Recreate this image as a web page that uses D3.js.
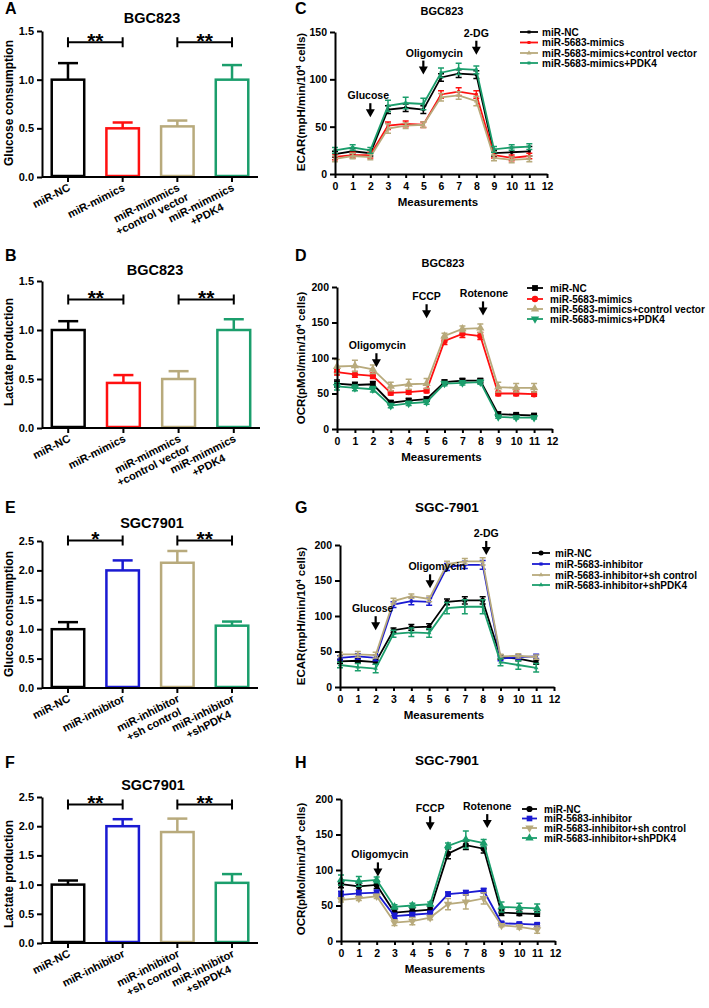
<!DOCTYPE html>
<html><head><meta charset="utf-8">
<script src="https://cdn.jsdelivr.net/npm/d3@7"></script>
<style>
body{margin:0;background:#fff}
svg{display:block}
text{font-family:"Liberation Sans",Arial,sans-serif;font-weight:bold;fill:#000}
</style>
</head><body><svg id="c" width="709" height="1008"></svg>
<script>
// ---------------- DATA ----------------
const catsMimic = ["miR-NC", "miR-mimics", "miR-mimmics|+control vector", "miR-mimmics|+PDK4"];
const catsInhib = ["miR-NC", "miR-inhibitor", "miR-inhibitor|+sh control", "miR-inhibitor|+shPDK4"];

const glucoseBGC = [1.0, 0.50, 0.52, 1.0];
const glucoseBGCErr = [0.17, 0.06, 0.06, 0.15];
const lactateBGC = [1.0, 0.46, 0.50, 1.0];
const lactateBGCErr = [0.09, 0.08, 0.08, 0.11];
const glucoseSGC = [1.0, 2.0, 2.13, 1.06];
const glucoseSGCErr = [0.12, 0.17, 0.20, 0.07];
const lactateSGC = [1.0, 2.0, 1.90, 1.03];
const lactateSGCErr = [0.07, 0.12, 0.23, 0.15];

const barTicksBGC = [0, 0.5, 1.0, 1.5];
const barTicksSGC = [0, 0.5, 1.0, 1.5, 2.0, 2.5];

const measurements = [0, 1, 2, 3, 4, 5, 6, 7, 8, 9, 10, 11];
const measTicks = [0, 1, 2, 3, 4, 5, 6, 7, 8, 9, 10, 11, 12];
const ecarTicksBGC = [0, 50, 100, 150];
const ocrTicks = [0, 50, 100, 150, 200];

const namesMimic = ["miR-NC", "miR-5683-mimics", "miR-5683-mimics+control vector", "miR-5683-mimics+PDK4"];
const namesInhib = ["miR-NC", "miR-5683-inhibitor", "miR-5683-inhibitor+sh control", "miR-5683-inhibitor+shPDK4"];

// C: ECAR BGC823
const ecarBGC_NC = [21, 24, 22, 68, 70, 68, 102, 106, 105, 22, 23, 24];
const ecarBGC_NCErr = [3, 3, 3, 4, 4, 4, 4, 4, 4, 3, 5, 5];
const ecarBGC_mim = [18, 20, 20, 51, 53, 52, 84, 87, 84, 20, 17, 19];
const ecarBGC_mimErr = [3, 3, 3, 4, 3, 3, 4, 4, 4, 3, 3, 3];
const ecarBGC_ctrl = [16, 19, 18, 48, 51, 52, 81, 83, 77, 17, 15, 16];
const ecarBGC_ctrlErr = [3, 3, 3, 5, 3, 3, 4, 4, 5, 3, 3, 3];
const ecarBGC_pdk = [25, 28, 25, 72, 75, 74, 107, 111, 110, 26, 28, 29];
const ecarBGC_pdkErr = [3, 3, 3, 6, 6, 6, 5, 6, 4, 3, 3, 3];

// D: OCR BGC823
const ocrBGC_NC = [64, 62, 63, 37, 40, 42, 66, 68, 68, 21, 20, 19];
const ocrBGC_NCErr = [5, 4, 4, 3, 3, 3, 3, 3, 3, 3, 2, 2];
const ocrBGC_mim = [80, 77, 75, 51, 52, 54, 124, 134, 131, 50, 50, 49];
const ocrBGC_mimErr = [4, 4, 4, 3, 3, 3, 5, 5, 5, 3, 3, 3];
const ocrBGC_ctrl = [88, 89, 84, 60, 63, 64, 131, 141, 142, 59, 58, 58];
const ocrBGC_ctrlErr = [10, 8, 6, 6, 7, 7, 4, 4, 6, 7, 6, 6];
const ocrBGC_pdk = [60, 58, 56, 33, 36, 38, 64, 65, 66, 17, 16, 16];
const ocrBGC_pdkErr = [5, 4, 4, 3, 3, 3, 3, 3, 3, 2, 2, 2];

// G: ECAR SGC-7901
const ecarSGC_NC = [36, 37, 35, 80, 84, 85, 120, 122, 122, 42, 40, 35];
const ecarSGC_NCErr = [3, 3, 3, 3, 4, 4, 4, 5, 5, 3, 3, 3];
const ecarSGC_inh = [41, 43, 41, 116, 121, 120, 169, 172, 172, 40, 42, 43];
const ecarSGC_inhErr = [3, 4, 4, 4, 5, 5, 5, 5, 6, 3, 3, 3];
const ecarSGC_ctrl = [46, 46, 45, 121, 128, 124, 173, 177, 177, 43, 44, 42];
const ecarSGC_ctrlErr = [3, 4, 4, 4, 3, 4, 4, 4, 5, 3, 3, 3];
const ecarSGC_sh = [31, 28, 26, 75, 77, 76, 111, 113, 113, 35, 31, 27];
const ecarSGC_shErr = [4, 5, 6, 5, 6, 6, 8, 10, 10, 5, 6, 6];

// H: OCR SGC-7901
const ocrSGC_NC = [80, 77, 79, 40, 42, 44, 123, 135, 130, 40, 39, 38];
const ocrSGC_NCErr = [5, 5, 5, 4, 4, 4, 7, 6, 6, 4, 3, 3];
const ocrSGC_inh = [65, 67, 68, 35, 37, 39, 66, 68, 71, 25, 24, 23];
const ocrSGC_inhErr = [5, 4, 4, 4, 3, 3, 3, 3, 3, 2, 2, 2];
const ocrSGC_ctrl = [58, 60, 63, 26, 28, 33, 52, 55, 60, 22, 20, 16];
const ocrSGC_ctrlErr = [3, 3, 3, 4, 5, 3, 8, 10, 8, 2, 3, 5];
const ocrSGC_sh = [86, 84, 86, 48, 50, 52, 134, 143, 138, 48, 47, 46];
const ocrSGC_shErr = [7, 7, 4, 3, 3, 3, 4, 12, 5, 7, 6, 6];

// injections: [label, measurement position, arrow tip value]
const injECAR_BGC = [["Glucose", 2, 60], ["Oligomycin", 5, 105], ["2-DG", 8, 126]];
const injOCR_BGC = [["Oligomycin", 2.2, 87], ["FCCP", 5, 156], ["Rotenone", 8.15, 160]];
const injECAR_SGC = [["Glucose", 2, 80], ["Oligomycin", 5.05, 139], ["2-DG", 8.2, 186]];
const injOCR_SGC = [["Oligomycin", 2.07, 91], ["FCCP", 5, 156], ["Rotenone", 8.2, 159]];

// ---------------- STYLE ----------------
const BLACK = "#000000", RED = "#ff1010", TAN = "#b8aa7c", GREEN = "#1b9e6c", BLUE = "#1a1ad2";
const svg = d3.select("#c");

function panelLetter(t, x, y) {
  svg.append("text").attr("x", x).attr("y", y).attr("font-size", 16).text(t);
}

function drawBar(o) {
  const g = svg.append("g");
  const y = d3.scaleLinear().domain([0, o.ymax]).range([o.yBot, o.yTop]);
  const x = d3.scaleBand().domain(o.cats).range([o.x0, o.x1]).paddingInner(0.36).paddingOuter(0.155);
  panelLetter(o.letter, 5, o.letterY);
  g.append("text").attr("x", o.titleX).attr("y", o.titleY).attr("text-anchor", "middle")
    .attr("font-size", 14.5).text(o.title);
  g.append("text").attr("transform", `translate(13,${o.ylabelY}) rotate(-90)`)
    .attr("text-anchor", "middle").attr("font-size", 12).text(o.ylabel);
  const bw = x.bandwidth();
  o.cats.forEach((c, i) => {
    const cx = x(c) + bw / 2;
    const top = y(o.vals[i] + o.errs[i]);
    g.append("line").attr("x1", cx).attr("x2", cx).attr("y1", y(o.vals[i])).attr("y2", top)
      .attr("stroke", o.colors[i]).attr("stroke-width", 2.5);
    g.append("line").attr("x1", cx - 10).attr("x2", cx + 10).attr("y1", top).attr("y2", top)
      .attr("stroke", o.colors[i]).attr("stroke-width", 2.5);
    g.append("rect").attr("x", x(c) + 1.25).attr("width", bw - 2.5)
      .attr("y", y(o.vals[i])).attr("height", y(0) - y(o.vals[i]) - 1)
      .attr("fill", "#fff").attr("stroke", o.colors[i]).attr("stroke-width", 2.5);
  });
  const ya = g.append("g").attr("transform", `translate(${o.x0},0)`)
    .call(d3.axisLeft(y).tickValues(o.ticks).tickFormat(d3.format(".1f")).tickSize(5).tickSizeOuter(0));
  ya.select(".domain").attr("stroke-width", 2);
  ya.selectAll(".tick line").attr("stroke-width", 2);
  ya.selectAll("text").attr("font-size", 11).attr("font-family", "Liberation Sans").attr("font-weight", "bold");
  const xa = g.append("g").attr("transform", `translate(0,${o.yBot})`)
    .call(d3.axisBottom(x).tickSize(5).tickSizeOuter(0).tickFormat(""));
  xa.select(".domain").attr("stroke-width", 2).attr("d", `M${o.x0},0H${o.x1}`);
  xa.selectAll(".tick line").attr("stroke-width", 2);
  o.cats.forEach(c => {
    const cx = x(c) + bw / 2;
    const parts = c.split("|");
    const lg = g.append("g").attr("transform", `translate(${cx + 3},${o.yBot + 13}) rotate(-27)`);
    const t1 = lg.append("text").attr("text-anchor", "end").attr("font-size", 11).text(parts[0]);
    if (parts[1]) {
      const w = t1.node().getComputedTextLength();
      lg.append("text").attr("text-anchor", "middle").attr("x", -w / 2).attr("y", 12.5)
        .attr("font-size", 11).text(parts[1]);
    }
  });
  o.brackets.forEach(b => {
    const xa1 = x(o.cats[b[0]]) + bw / 2, xb = x(o.cats[b[1]]) + bw / 2, yy = y(b[2]);
    g.append("path").attr("d", `M${xa1},${yy - 5}V${yy + 5}M${xa1},${yy}H${xb}M${xb},${yy - 5}V${yy + 5}`)
      .attr("stroke", "#000").attr("stroke-width", 2).attr("fill", "none");
    g.append("text").attr("x", (xa1 + xb) / 2).attr("y", yy + 5.5).attr("text-anchor", "middle")
      .attr("font-size", 21).text(b[3]);
  });
}

function marker(type, size) {
  if (type === "tridown") return d3.symbol().type(d3.symbolTriangle).size(size)();
  const m = {circle: d3.symbolCircle, square: d3.symbolSquare, tri: d3.symbolTriangle}[type];
  return d3.symbol().type(m).size(size)();
}

function drawLine(o) {
  const g = svg.append("g");
  const x = d3.scaleLinear().domain([0, 12]).range([o.x0, o.x1]);
  const y = d3.scaleLinear().domain([0, o.ymax]).range([o.yBot, o.yTop]);
  panelLetter(o.letter, 295, o.letterY);
  g.append("text").attr("x", o.titleX).attr("y", o.titleY).attr("text-anchor", "middle")
    .attr("font-size", o.titleSize).text(o.title);
  const yl = g.append("text").attr("transform", `translate(305,${o.ylabelY}) rotate(-90)`)
    .attr("text-anchor", "middle").attr("font-size", 11.5);
  yl.append("tspan").text(o.ylabel[0] + "(" + o.ylabel[1] + "/min/10");
  yl.append("tspan").attr("dy", -4).attr("font-size", 7.5).text("4");
  yl.append("tspan").attr("dy", 4).text(" cells)");

  o.series.forEach(s => {
    const line = d3.line().x((d, i) => x(measurements[i])).y(d => y(d));
    s.vals.forEach((v, i) => {
      const cx = x(measurements[i]);
      g.append("path").attr("d", `M${cx},${y(v - s.errs[i])}V${y(v + s.errs[i])}M${cx - 3},${y(v + s.errs[i])}H${cx + 3}M${cx - 3},${y(v - s.errs[i])}H${cx + 3}`)
        .attr("stroke", s.color).attr("stroke-width", 1.5).attr("fill", "none");
    });
    g.append("path").attr("d", line(s.vals)).attr("fill", "none").attr("stroke", s.color).attr("stroke-width", 1.8);
    s.vals.forEach((v, i) => {
      g.append("path").attr("d", marker(s.marker, s.msize))
        .attr("transform", `translate(${x(measurements[i])},${y(v)})${s.marker === "tridown" ? " rotate(180)" : ""}`)
        .attr("fill", s.color);
    });
  });

  const ya = g.append("g").attr("transform", `translate(${o.x0},0)`)
    .call(d3.axisLeft(y).tickValues(o.ticks).tickSize(5).tickSizeOuter(0));
  ya.select(".domain").attr("stroke-width", 2);
  ya.selectAll(".tick line").attr("stroke-width", 2);
  ya.selectAll("text").attr("font-size", 10.5).attr("font-family", "Liberation Sans").attr("font-weight", "bold");
  const xa = g.append("g").attr("transform", `translate(0,${o.yBot})`)
    .call(d3.axisBottom(x).tickValues(measTicks).tickSize(4).tickSizeOuter(0));
  xa.select(".domain").attr("stroke-width", 2);
  xa.selectAll(".tick line").attr("stroke-width", 2);
  xa.selectAll("text").attr("font-size", 10.5).attr("font-family", "Liberation Sans").attr("font-weight", "bold").attr("dy", "0.9em");
  g.append("text").attr("x", (o.x0 + o.x1) / 2 - 3).attr("y", o.yBot + 32).attr("text-anchor", "middle")
    .attr("font-size", 11.5).text("Measurements");

  o.inj.forEach((a, k) => {
    const ax = x(a[1]), tip = y(a[2]);
    g.append("line").attr("x1", ax).attr("x2", ax).attr("y1", tip - 14).attr("y2", tip - 6)
      .attr("stroke", "#000").attr("stroke-width", 2.2);
    g.append("path").attr("d", `M${ax - 4.5},${tip - 8}L${ax + 4.5},${tip - 8}L${ax},${tip}Z`).attr("fill", "#000");
    g.append("text").attr("x", ax + (o.injDx[k] || 0)).attr("y", tip - 18).attr("text-anchor", "middle")
      .attr("font-size", 10.5).text(a[0]);
  });

  o.series.forEach((s, i) => {
    const ly = o.leg.ys[i];
    g.append("line").attr("x1", o.leg.x0).attr("x2", o.leg.x1).attr("y1", ly).attr("y2", ly)
      .attr("stroke", s.color).attr("stroke-width", 1.8);
    g.append("path").attr("d", marker(s.marker, s.msize))
      .attr("transform", `translate(${(o.leg.x0 + o.leg.x1) / 2},${ly})${s.marker === "tridown" ? " rotate(180)" : ""}`)
      .attr("fill", s.color);
    g.append("text").attr("x", o.leg.tx).attr("y", ly + 3.5).attr("font-size", 10).text(s.name);
  });
}

// ---------------- PANELS ----------------
drawBar({letter: "A", letterY: 14, title: "BGC823", titleX: 152, titleY: 23, ylabel: "Glucose consumption", ylabelY: 103,
  cats: catsMimic, vals: glucoseBGC, errs: glucoseBGCErr, colors: [BLACK, RED, TAN, GREEN],
  ticks: barTicksBGC, ymax: 1.5, yTop: 31, yBot: 177, x0: 42, x1: 258,
  brackets: [[0, 1, 1.385, "**"], [2, 3, 1.385, "**"]]});
drawBar({letter: "B", letterY: 261, title: "BGC823", titleX: 155, titleY: 275, ylabel: "Lactate production", ylabelY: 352,
  cats: catsMimic, vals: lactateBGC, errs: lactateBGCErr, colors: [BLACK, RED, TAN, GREEN],
  ticks: barTicksBGC, ymax: 1.5, yTop: 281, yBot: 428, x0: 42, x1: 260,
  brackets: [[0, 1, 1.31, "**"], [2, 3, 1.31, "**"]]});
drawBar({letter: "E", letterY: 513, title: "SGC7901", titleX: 152, titleY: 528, ylabel: "Glucose consumption", ylabelY: 614,
  cats: catsInhib, vals: glucoseSGC, errs: glucoseSGCErr, colors: [BLACK, BLUE, TAN, GREEN],
  ticks: barTicksSGC, ymax: 2.5, yTop: 541, yBot: 688, x0: 42, x1: 258,
  brackets: [[0, 1, 2.51, "*"], [2, 3, 2.51, "**"]]});
drawBar({letter: "F", letterY: 768, title: "SGC7901", titleX: 153, titleY: 790, ylabel: "Lactate production", ylabelY: 874,
  cats: catsInhib, vals: lactateSGC, errs: lactateSGCErr, colors: [BLACK, BLUE, TAN, GREEN],
  ticks: barTicksSGC, ymax: 2.5, yTop: 797, yBot: 943, x0: 42, x1: 258,
  brackets: [[0, 1, 2.37, "**"], [2, 3, 2.37, "**"]]});

drawLine({letter: "C", letterY: 14, title: "BGC823", titleX: 442, titleY: 15, titleSize: 11,
  ylabel: ["ECAR", "mpH"], ylabelY: 102, x0: 335, x1: 547, yTop: 32, yBot: 174, ymax: 150, ticks: ecarTicksBGC,
  series: [
    {name: namesMimic[0], vals: ecarBGC_NC, errs: ecarBGC_NCErr, color: BLACK, marker: "square", msize: 9},
    {name: namesMimic[1], vals: ecarBGC_mim, errs: ecarBGC_mimErr, color: RED, marker: "square", msize: 9},
    {name: namesMimic[2], vals: ecarBGC_ctrl, errs: ecarBGC_ctrlErr, color: TAN, marker: "tri", msize: 10},
    {name: namesMimic[3], vals: ecarBGC_pdk, errs: ecarBGC_pdkErr, color: GREEN, marker: "square", msize: 9}],
  inj: injECAR_BGC, injDx: [-2, 11, 0],
  leg: {x0: 520, x1: 538, tx: 542, ys: [32, 42.5, 53, 63]}});

drawLine({letter: "D", letterY: 261, title: "BGC823", titleX: 443, titleY: 267, titleSize: 11,
  ylabel: ["OCR", "pMol"], ylabelY: 358, x0: 337, x1: 552, yTop: 287, yBot: 429, ymax: 200, ticks: ocrTicks,
  series: [
    {name: namesMimic[0], vals: ocrBGC_NC, errs: ocrBGC_NCErr, color: BLACK, marker: "square", msize: 34},
    {name: namesMimic[1], vals: ocrBGC_mim, errs: ocrBGC_mimErr, color: RED, marker: "circle", msize: 32},
    {name: namesMimic[2], vals: ocrBGC_ctrl, errs: ocrBGC_ctrlErr, color: TAN, marker: "tri", msize: 30},
    {name: namesMimic[3], vals: ocrBGC_pdk, errs: ocrBGC_pdkErr, color: GREEN, marker: "tridown", msize: 30}],
  inj: injOCR_BGC, injDx: [1, 0, 1],
  leg: {x0: 527, x1: 543, tx: 550, ys: [288, 299, 309, 319]}});

drawLine({letter: "G", letterY: 513, title: "SGC-7901", titleX: 447, titleY: 512, titleSize: 13.5,
  ylabel: ["ECAR", "mpH"], ylabelY: 616, x0: 340, x1: 554, yTop: 545, yBot: 687, ymax: 200, ticks: ocrTicks,
  series: [
    {name: namesInhib[0], vals: ecarSGC_NC, errs: ecarSGC_NCErr, color: BLACK, marker: "circle", msize: 20},
    {name: namesInhib[1], vals: ecarSGC_inh, errs: ecarSGC_inhErr, color: BLUE, marker: "square", msize: 10},
    {name: namesInhib[2], vals: ecarSGC_ctrl, errs: ecarSGC_ctrlErr, color: TAN, marker: "tri", msize: 9},
    {name: namesInhib[3], vals: ecarSGC_sh, errs: ecarSGC_shErr, color: GREEN, marker: "tri", msize: 9}],
  inj: injECAR_SGC, injDx: [-3, 7, 0],
  leg: {x0: 532, x1: 550, tx: 555, ys: [553, 564, 575, 585]}});

drawLine({letter: "H", letterY: 768, title: "SGC-7901", titleX: 447, titleY: 765, titleSize: 13.5,
  ylabel: ["OCR", "pMol"], ylabelY: 869, x0: 341, x1: 555, yTop: 799, yBot: 941, ymax: 200, ticks: ocrTicks,
  series: [
    {name: namesInhib[0], vals: ocrSGC_NC, errs: ocrSGC_NCErr, color: BLACK, marker: "circle", msize: 30},
    {name: namesInhib[1], vals: ocrSGC_inh, errs: ocrSGC_inhErr, color: BLUE, marker: "square", msize: 32},
    {name: namesInhib[2], vals: ocrSGC_ctrl, errs: ocrSGC_ctrlErr, color: TAN, marker: "tridown", msize: 30},
    {name: namesInhib[3], vals: ocrSGC_sh, errs: ocrSGC_shErr, color: GREEN, marker: "tri", msize: 30}],
  inj: injOCR_SGC, injDx: [2, 0, 0],
  leg: {x0: 522, x1: 537, tx: 544, ys: [809, 818.5, 828, 838]}});
</script>
</body></html>
